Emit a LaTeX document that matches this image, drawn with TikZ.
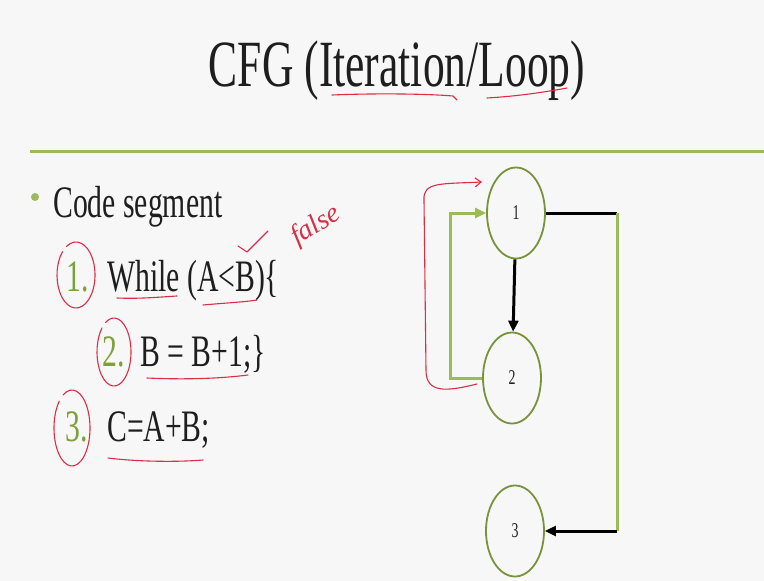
\documentclass[tikz,border=0pt]{standalone}
\usepackage{fontspec}
\setmainfont{Liberation Serif}
\usetikzlibrary{arrows.meta,positioning,shapes.geometric}

\definecolor{slidebg}{RGB}{247,247,247}
\definecolor{rulegreen}{RGB}{155,187,89}
\definecolor{numgreen}{RGB}{125,160,60}
\definecolor{ringgreen}{RGB}{119,147,60}
\definecolor{inkred}{RGB}{218,45,70}
\definecolor{bodytext}{RGB}{30,30,30}
\newcommand{\narrow}[1]{\scalebox{0.66}[1]{#1}}

\begin{document}
\begin{tikzpicture}[x=1pt, y=-1pt,
    txt/.style={anchor=base west, inner sep=0pt, text=bodytext, font=\fontsize{45}{45}\selectfont},
    num/.style={txt, text=numgreen},
    blk/.style={ellipse, draw=ringgreen, line width=1.8pt, minimum width=58pt,
                minimum height=91pt, inner sep=0pt, text=bodytext, font=\fontsize{21}{21}\selectfont},
    flow/.style={draw=black, line width=3pt, -{Triangle[length=11pt,width=10pt]}},
    back/.style={draw=rulegreen, line width=3pt},
    pen/.style={draw=inkred, line width=1.1pt, line cap=round, line join=round}]

  \fill[slidebg] (0,0) rectangle (764,581);
  \useasboundingbox (0,0) rectangle (764,581);

  % slide heading
  \node[anchor=base, inner sep=0pt, text=bodytext, font=\fontsize{66}{66}\selectfont]
    (title) at (397,86) {\narrow{CFG (Iteration/Loop)}};
  \draw[rulegreen, line width=3pt] (30,151) -- (764,151);

  % code segment
  \fill[rulegreen] (35,197) circle (4);
  \node[txt] (head) at (53,217) {\narrow{Code segment}};
  \node[num] (k1) at (66,291) {\narrow{1.}};
  \node[txt] (s1) at (107,291) {\narrow{While (A<B)\{}};
  \node[num] (k2) at (102,366) {\narrow{2.}};
  \node[txt] (s2) at (140,366) {\narrow{B = B+1;\}}};
  \node[num] (k3) at (65,441) {\narrow{3.}};
  \node[txt] (s3) at (107,441) {\narrow{C=A+B;}};

  % flow graph
  \node[blk] (n1) at (516,213) {\narrow{1}};
  \node[blk] (n2) at (512,378) {\narrow{2}};
  \node[blk] (n3) at (515,531) {\narrow{3}};
  \coordinate (c1) at (617,213);
  \coordinate (c3) at (617,531);

  \draw[flow] (n1) -- (n2);
  \draw[back, -{Triangle[length=11pt,width=10pt]}] (n2.west) -- ++(-32,0) |- (n1.west);
  \draw[draw=black, line width=3pt] (n1.east) -- (c1);
  \draw[back] (c1) -- (c3);
  \draw[flow] (c3) -- (n3.east);

  % pen marks
  \draw[pen] (332,95) .. controls (380,93) and (430,94) .. (453,96) -- (457,100);
  \draw[pen] (487,98) .. controls (520,96) and (545,92) .. (567,88);
  \draw[pen] (76,275) ++(240:19 and 33) arc[start angle=240, end angle=585, x radius=19, y radius=33];
  \draw[pen] (114,352) ++(240:17 and 34) arc[start angle=240, end angle=585, x radius=17, y radius=34];
  \draw[pen] (72,428) ++(240:18 and 38) arc[start angle=240, end angle=585, x radius=18, y radius=38];
  \draw[pen] (117,298) .. controls (140,299) and (160,297) .. (177,296);
  \draw[pen] (203,305) .. controls (225,303) and (245,302) .. (257,300);
  \draw[pen] (147,378) .. controls (190,380) and (225,378) .. (248,375);
  \draw[pen] (108,458) .. controls (140,462) and (180,462) .. (203,460);
  \draw[pen] (238,246) -- (247,252) -- (268,231);
  \node[font=\itshape\fontsize{28}{28}\selectfont, text=inkred, rotate=32, inner sep=0pt]
    (note) at (316,226) {false};
  \draw[pen, -{Straight Barb[length=6pt,width=9pt]}] (477,384)
    .. controls (445,392) and (426,393) .. (426,370) -- (424,200)
    .. controls (423,182) and (440,184) .. (482,182);
\end{tikzpicture}
\end{document}
